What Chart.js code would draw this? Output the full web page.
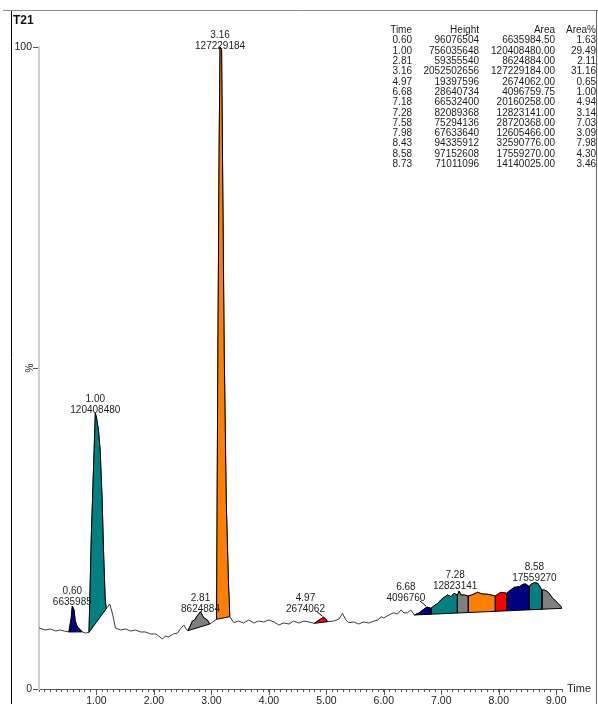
<!DOCTYPE html>
<html><head><meta charset="utf-8">
<script src="https://cdn.jsdelivr.net/npm/chart.js@4.4.1/dist/chart.umd.min.js"></script>
<style>html,body{margin:0;padding:0;background:#fff;overflow:hidden}#wrap{position:relative;width:598px;height:704px}</style>
</head><body><div id="wrap"><canvas id="c" width="598" height="704"></canvas></div>
<script>
// ---- DATA ----
const traceTime = [0.00,0.11,0.20,0.29,0.37,0.44,0.52,0.56,0.58,0.61,0.63,0.66,0.72,0.75,0.81,0.87,0.91,0.98,1.00,1.035,1.064,1.099,1.122,1.152,1.17,1.23,1.28,1.33,1.42,1.51,1.59,1.68,1.77,1.85,1.94,2.03,2.08,2.15,2.20,2.25,2.34,2.41,2.46,2.52,2.55,2.59,2.64,2.67,2.71,2.75,2.78,2.81,2.85,2.87,2.93,2.97,3.02,3.09,3.108,3.134,3.15,3.177,3.192,3.222,3.258,3.295,3.32,3.39,3.47,3.56,3.65,3.74,3.82,3.91,4.00,4.09,4.17,4.26,4.35,4.43,4.52,4.61,4.69,4.79,4.85,4.90,4.95,4.99,5.02,5.13,5.22,5.28,5.34,5.39,5.48,5.56,5.65,5.74,5.83,5.90,5.95,6.00,6.09,6.17,6.24,6.30,6.35,6.41,6.47,6.53,6.61,6.68,6.75,6.82,6.87,6.94,6.99,7.05,7.11,7.17,7.22,7.28,7.31,7.34,7.40,7.47,7.53,7.63,7.71,7.81,7.94,7.99,8.04,8.14,8.19,8.27,8.36,8.42,8.47,8.53,8.56,8.62,8.68,8.75,8.79,8.85,8.94,9.03,9.11];
const traceValue = [9.50,9.19,9.35,9.03,9.19,9.03,8.88,11.00,12.93,12.30,10.60,9.80,9.20,8.90,8.72,8.83,23.70,42.95,42.30,40.30,37.20,29.40,21.65,13.86,12.50,13.24,11.68,9.50,9.19,9.35,9.03,9.19,8.88,8.88,8.57,8.57,8.26,7.79,8.26,8.10,8.57,8.72,9.35,9.97,9.50,9.08,9.97,10.60,10.75,11.37,11.68,12.04,11.37,11.06,10.75,10.12,10.44,10.86,45.00,83.96,100.00,99.50,83.96,52.80,29.40,17.00,11.26,10.33,10.59,10.28,10.75,10.28,10.59,10.44,10.75,10.44,9.97,10.28,10.12,10.59,10.28,10.59,10.44,10.23,10.59,10.90,11.17,10.90,10.48,10.59,10.90,11.79,10.75,10.33,10.44,10.12,10.44,10.28,10.59,10.75,11.26,11.06,11.53,11.88,11.68,12.31,11.84,11.88,12.31,11.53,11.84,12.31,12.77,12.57,12.93,13.35,13.86,14.28,14.64,14.38,14.91,14.64,15.26,14.64,14.64,14.49,14.64,15.06,14.80,14.75,14.49,14.80,15.06,14.91,15.31,15.84,15.93,16.31,16.36,15.93,16.31,16.56,16.46,15.42,15.42,15.16,14.13,13.35,12.57];

// integrated peaks (table)
const peakTimes   = [0.60,1.00,2.81,3.16,4.97,6.68,7.18,7.28,7.58,7.98,8.43,8.58,8.73];
const peakHeights = [96076504,756035648,59355540,2052502656,19397596,28640734,66532400,82089368,75294136,67633640,94335912,97152608,71011096];
const peakAreas   = [6635984.50,120408480.00,8624884.00,127229184.00,2674062.00,4096759.75,20160258.00,12823141.00,28720368.00,12605466.00,32590776.00,17559270.00,14140025.00];
const peakAreaPct = [1.63,29.49,2.11,31.16,0.65,1.00,4.94,3.14,7.03,3.09,7.98,4.30,3.46];
const peakStart   = [0.52,0.87,2.59,3.09,4.79,6.53,6.82,7.28,7.47,7.94,8.14,8.53,8.75];
const peakEnd     = [0.75,1.17,2.97,3.32,5.02,6.82,7.28,7.47,7.94,8.14,8.53,8.75,9.11];
const peakGroup   = [0,1,2,3,4,5,5,5,5,5,5,5,5];
const groupStart  = [0.52,0.87,2.59,3.09,4.79,6.53];
const groupEnd    = [0.75,1.17,2.97,3.32,5.02,9.11];
const labeledPeaks = [0,1,2,3,4,5,7,11];
const tableHeader = ['Time','Height','Area','Area%'];
const xTickLabels = ['1.00','2.00','3.00','4.00','5.00','6.00','7.00','8.00','9.00'];
const yTickValues = [0,50,100];
const yTickLabels = ['0','%','100'];
const chartTitle = 'T21';
const xAxisName = 'Time';

// ---- STYLE ----
const FONT = '"Liberation Sans", Arial, sans-serif';
const TXT = '#1c1c1c';
const palette = ['#000080','#008080','#808080','#ff8000','#ff0000'];
const labelShift = {1:{dx:0,dy:1},2:{dx:0,dy:1},3:{dx:0,dy:3},4:{dx:-18,dy:-4,leader:true},5:{dx:-21,dy:-5,leader:true},7:{dx:-4,dy:-1},11:{dx:0,dy:-1}};

function traceAt(t){
  for(let i=0;i<traceTime.length-1;i++){
    const a=traceTime[i], b=traceTime[i+1];
    if(t>=a && t<=b){ return traceValue[i]+(traceValue[i+1]-traceValue[i])*(t-a)/(b-a); }
  }
  return traceValue[traceValue.length-1];
}
function baseAt(g,t){
  const s=groupStart[g], e=groupEnd[g], vs=traceAt(s), ve=traceAt(e);
  return vs+(ve-vs)*(t-s)/(e-s);
}

const datasets = [];
datasets.push({label:'trace', data: traceTime.map((t,i)=>({x:t,y:traceValue[i]})), borderColor:'#3c3c3c', borderWidth:1, pointRadius:0, fill:false, tension:0, order:3});
groupStart.forEach((s,g)=>{
  datasets.push({label:'base'+g, data:[{x:s,y:traceAt(s)},{x:groupEnd[g],y:traceAt(groupEnd[g])}], borderColor:'#000', borderWidth:1, pointRadius:0, fill:false, tension:0, order:1});
});
peakStart.forEach((s,i)=>{
  const e=peakEnd[i], g=peakGroup[i];
  const pts=[{x:s,y:baseAt(g,s)}];
  traceTime.forEach((t,k)=>{ if(t>=s-1e-9 && t<=e+1e-9) pts.push({x:t,y:traceValue[k]}); });
  pts.push({x:e,y:baseAt(g,e)});
  datasets.push({label:'peak'+i, data:pts, borderColor:'#000', borderWidth:1, pointRadius:0, tension:0, backgroundColor:palette[i%5], fill:1+g, order:2});
});

const decor = {
  id:'decor',
  beforeDraw(chart){
    const ctx=chart.ctx; ctx.save();
    ctx.fillStyle='#fff'; ctx.fillRect(0,0,chart.width,chart.height);
    ctx.lineWidth=1;
    ctx.strokeStyle='#8c8c8c'; ctx.beginPath(); ctx.moveTo(3,10.5); ctx.lineTo(598,10.5); ctx.stroke();
    ctx.strokeStyle='#000'; ctx.beginPath(); ctx.moveTo(11.5,11); ctx.lineTo(11.5,704); ctx.stroke();
    ctx.strokeStyle='#666'; ctx.beginPath(); ctx.moveTo(596.5,10); ctx.lineTo(596.5,704); ctx.stroke();
    ctx.restore();
  },
  afterDraw(chart){
    const ctx=chart.ctx, xs=chart.scales.x, ys=chart.scales.y;
    ctx.save();
    // longer ticks at whole units
    ctx.strokeStyle='#555'; ctx.lineWidth=1; ctx.beginPath();
    xTickLabels.forEach((l,k)=>{ const px=Math.round(xs.getPixelForValue(k+1))+0.5; ctx.moveTo(px,ys.bottom); ctx.lineTo(px,ys.bottom+6); });
    ctx.stroke();
    // title
    ctx.fillStyle='#111'; ctx.font='bold 12px '+FONT; ctx.textAlign='left'; ctx.textBaseline='alphabetic';
    ctx.fillText(chartTitle,13,24);
    // table
    ctx.fillStyle=TXT; ctx.font='10px '+FONT; ctx.textAlign='right'; ctx.textBaseline='middle';
    const cols=[412,479,555,596];
    tableHeader.forEach((h,j)=>ctx.fillText(h,cols[j],30));
    peakTimes.forEach((t,i)=>{
      const y=40.7+i*10.3;
      ctx.fillText(t.toFixed(2),cols[0],y);
      ctx.fillText(String(peakHeights[i]),cols[1],y);
      ctx.fillText(peakAreas[i].toFixed(2),cols[2],y);
      ctx.fillText(peakAreaPct[i].toFixed(2),cols[3],y);
    });
    // peak labels
    ctx.textAlign='center'; ctx.textBaseline='alphabetic'; ctx.font='10px '+FONT;
    labeledPeaks.forEach(i=>{
      let bt=peakStart[i], bv=-1;
      traceTime.forEach((t,k)=>{ if(t>=peakStart[i]-1e-9 && t<=peakEnd[i]+1e-9 && traceValue[k]>bv){bv=traceValue[k]; bt=t;} });
      const ax=xs.getPixelForValue(bt), ay=ys.getPixelForValue(bv);
      const sh=labelShift[i]||{dx:0,dy:0};
      const cx=ax+sh.dx, by=ay-1+sh.dy;
      ctx.fillStyle=TXT;
      ctx.fillText(peakTimes[i].toFixed(2),cx,by-11);
      ctx.fillText(String(Math.round(peakAreas[i])),cx,by);
      if(sh.leader){
        ctx.strokeStyle='#000'; ctx.lineWidth=1; ctx.beginPath();
        ctx.moveTo(ax-7,ay-6); ctx.lineTo(ax-1,ay-1); ctx.stroke();
      }
    });
    // % label rotated
    ctx.save();
    ctx.translate(30, ys.getPixelForValue(yTickValues[1]));
    ctx.rotate(-Math.PI/2);
    ctx.textAlign='center'; ctx.textBaseline='middle'; ctx.font='10px '+FONT; ctx.fillStyle=TXT;
    ctx.fillText(yTickLabels[1],0,0);
    ctx.restore();
    // axis name
    ctx.textAlign='left'; ctx.textBaseline='middle'; ctx.font='11px '+FONT; ctx.fillStyle=TXT;
    ctx.fillText(xAxisName, xs.right+5, ys.bottom);
    ctx.restore();
  }
};

new Chart(document.getElementById('c'),{
  type:'line',
  data:{datasets},
  options:{
    responsive:false, animation:false, devicePixelRatio:1,
    layout:{padding:{top:47,right:36,left:0,bottom:0}},
    plugins:{legend:{display:false}, tooltip:{enabled:false}},
    scales:{
      x:{type:'linear', min:0, max:9.1,
        afterFit(s){ s.height=15; },
        afterBuildTicks(s){ const t=[]; for(let i=0;i<=91;i++) t.push({value:i/10}); s.ticks=t; },
        ticks:{autoSkip:false, maxRotation:0, minRotation:0, padding:3, color:TXT, font:{family:FONT,size:10.5},
          callback(v){ const r=Math.round(v); return (Math.abs(v-r)<1e-6 && r>=1) ? xTickLabels[r-1] : ''; }},
        grid:{drawOnChartArea:false, drawTicks:true, tickLength:3, tickColor:'#555'},
        border:{color:'#555', width:1}
      },
      y:{type:'linear', min:0, max:100,
        afterFit(s){ s.width=39; },
        afterBuildTicks(s){ s.ticks=yTickValues.map(v=>({value:v})); },
        ticks:{padding:1, color:TXT, font:{family:FONT,size:10.5},
          callback(v){ const k=yTickValues.indexOf(v); return (k<0||k===1)?'':yTickLabels[k]; }},
        grid:{drawOnChartArea:false, drawTicks:true, tickLength:6, tickColor:'#555'},
        border:{color:'#cfcfcf', width:2}
      }
    }
  },
  plugins:[decor]
});
</script></body></html>
